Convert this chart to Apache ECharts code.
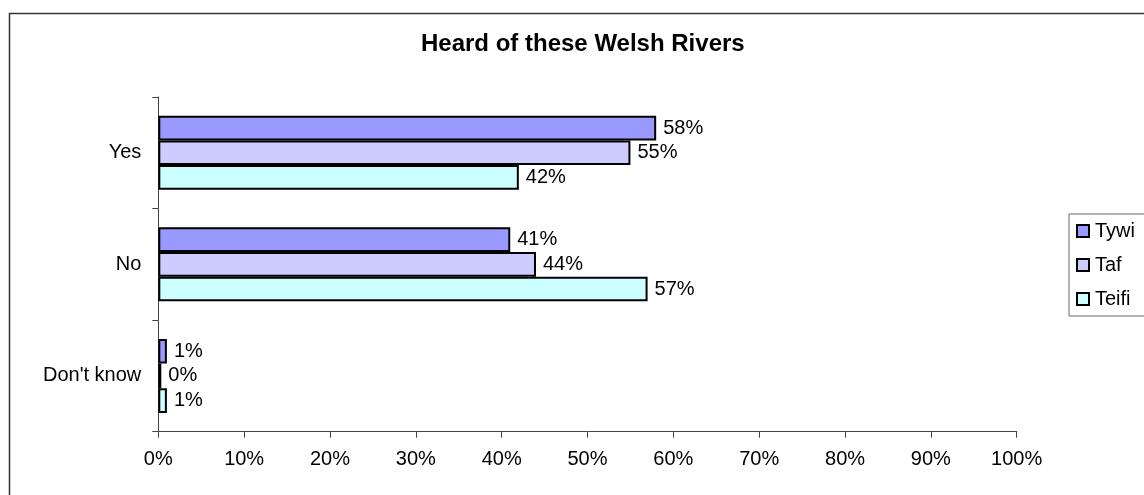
<!DOCTYPE html>
<html>
<head>
<meta charset="utf-8">
<title>Heard of these Welsh Rivers</title>
<script src="https://cdn.jsdelivr.net/npm/echarts@6/dist/echarts.min.js"></script>
<style>
  html, body { margin: 0; padding: 0; background: #ffffff; }
  #chart { width: 1144px; height: 495px; }
</style>
</head>
<body>
<div id="chart"></div>
<script>
// Survey answers, top to bottom
const categories = ['Yes', 'No', "Don't know"];
// Share of respondents (%) per river
const tywi  = [58, 41, 1];
const taf   = [55, 44, 0];
const teifi = [42, 57, 1];
const seriesNames = ['Tywi', 'Taf', 'Teifi'];
const seriesColors = ['#9999FF', '#CCCCFF', '#CCFFFF'];
const xTicks = { min: 0, max: 100, interval: 10 };

const FONT = '"Liberation Sans", Arial, Helvetica, sans-serif';
const chart = echarts.init(document.getElementById('chart'), null, { renderer: 'canvas' });

function barSeries(name, data, color) {
  return {
    name: name,
    type: 'bar',
    data: data,
    barGap: '0%',
    barCategoryGap: '33.7%',
    barMinHeight: 3,
    itemStyle: { color: color, borderColor: '#000000', borderWidth: 2 },
    label: {
      show: true,
      position: 'right',
      distance: 7,
      color: '#000000',
      fontFamily: FONT,
      fontSize: 20,
      formatter: p => p.value + '%'
    },
    emphasis: { disabled: true }
  };
}

chart.setOption({
  animation: false,
  backgroundColor: '#ffffff',
  textStyle: { fontFamily: FONT },
  title: {
    text: 'Heard of these Welsh Rivers',
    left: 421,
    top: 32,
    padding: 0,
    textStyle: { fontFamily: FONT, fontSize: 24, fontWeight: 'bold', color: '#000000' }
  },
  legend: {
    orient: 'vertical',
    left: 1069,
    top: 214,
    padding: [7, 10, 7, 7],
    itemGap: 14,
    itemWidth: 12,
    itemHeight: 12,
    icon: 'rect',
    borderColor: '#666666',
    borderWidth: 1,
    data: seriesNames,
    textStyle: { fontFamily: FONT, fontSize: 20, color: '#000000', padding: [0, 0, 0, 1] }
  },
  grid: { left: 158.3, right: 127.3, top: 97, bottom: 63.3, containLabel: false },
  xAxis: {
    type: 'value',
    min: xTicks.min,
    max: xTicks.max,
    interval: xTicks.interval,
    axisLine: { show: true, lineStyle: { color: '#444444', width: 1 } },
    axisTick: { show: true, length: 6, lineStyle: { color: '#444444' } },
    splitLine: { show: false },
    axisLabel: { formatter: '{value}%', fontFamily: FONT, fontSize: 20, color: '#000000', margin: 18 }
  },
  yAxis: {
    type: 'category',
    inverse: true,
    data: categories,
    axisLine: { show: true, lineStyle: { color: '#444444', width: 1 } },
    axisTick: { show: true, length: 6, lineStyle: { color: '#444444' } },
    axisLabel: { fontFamily: FONT, fontSize: 20, color: '#000000', margin: 17 }
  },
  series: [
    barSeries(seriesNames[0], tywi, seriesColors[0]),
    barSeries(seriesNames[1], taf, seriesColors[1]),
    barSeries(seriesNames[2], teifi, seriesColors[2])
  ],
  graphic: [{
    type: 'rect',
    shape: { x: 9.5, y: 13.5, width: 1200, height: 600 },
    style: { fill: 'none', stroke: '#333333', lineWidth: 1.5 },
    silent: true,
    z: -1
  }]
});
</script>
</body>
</html>
